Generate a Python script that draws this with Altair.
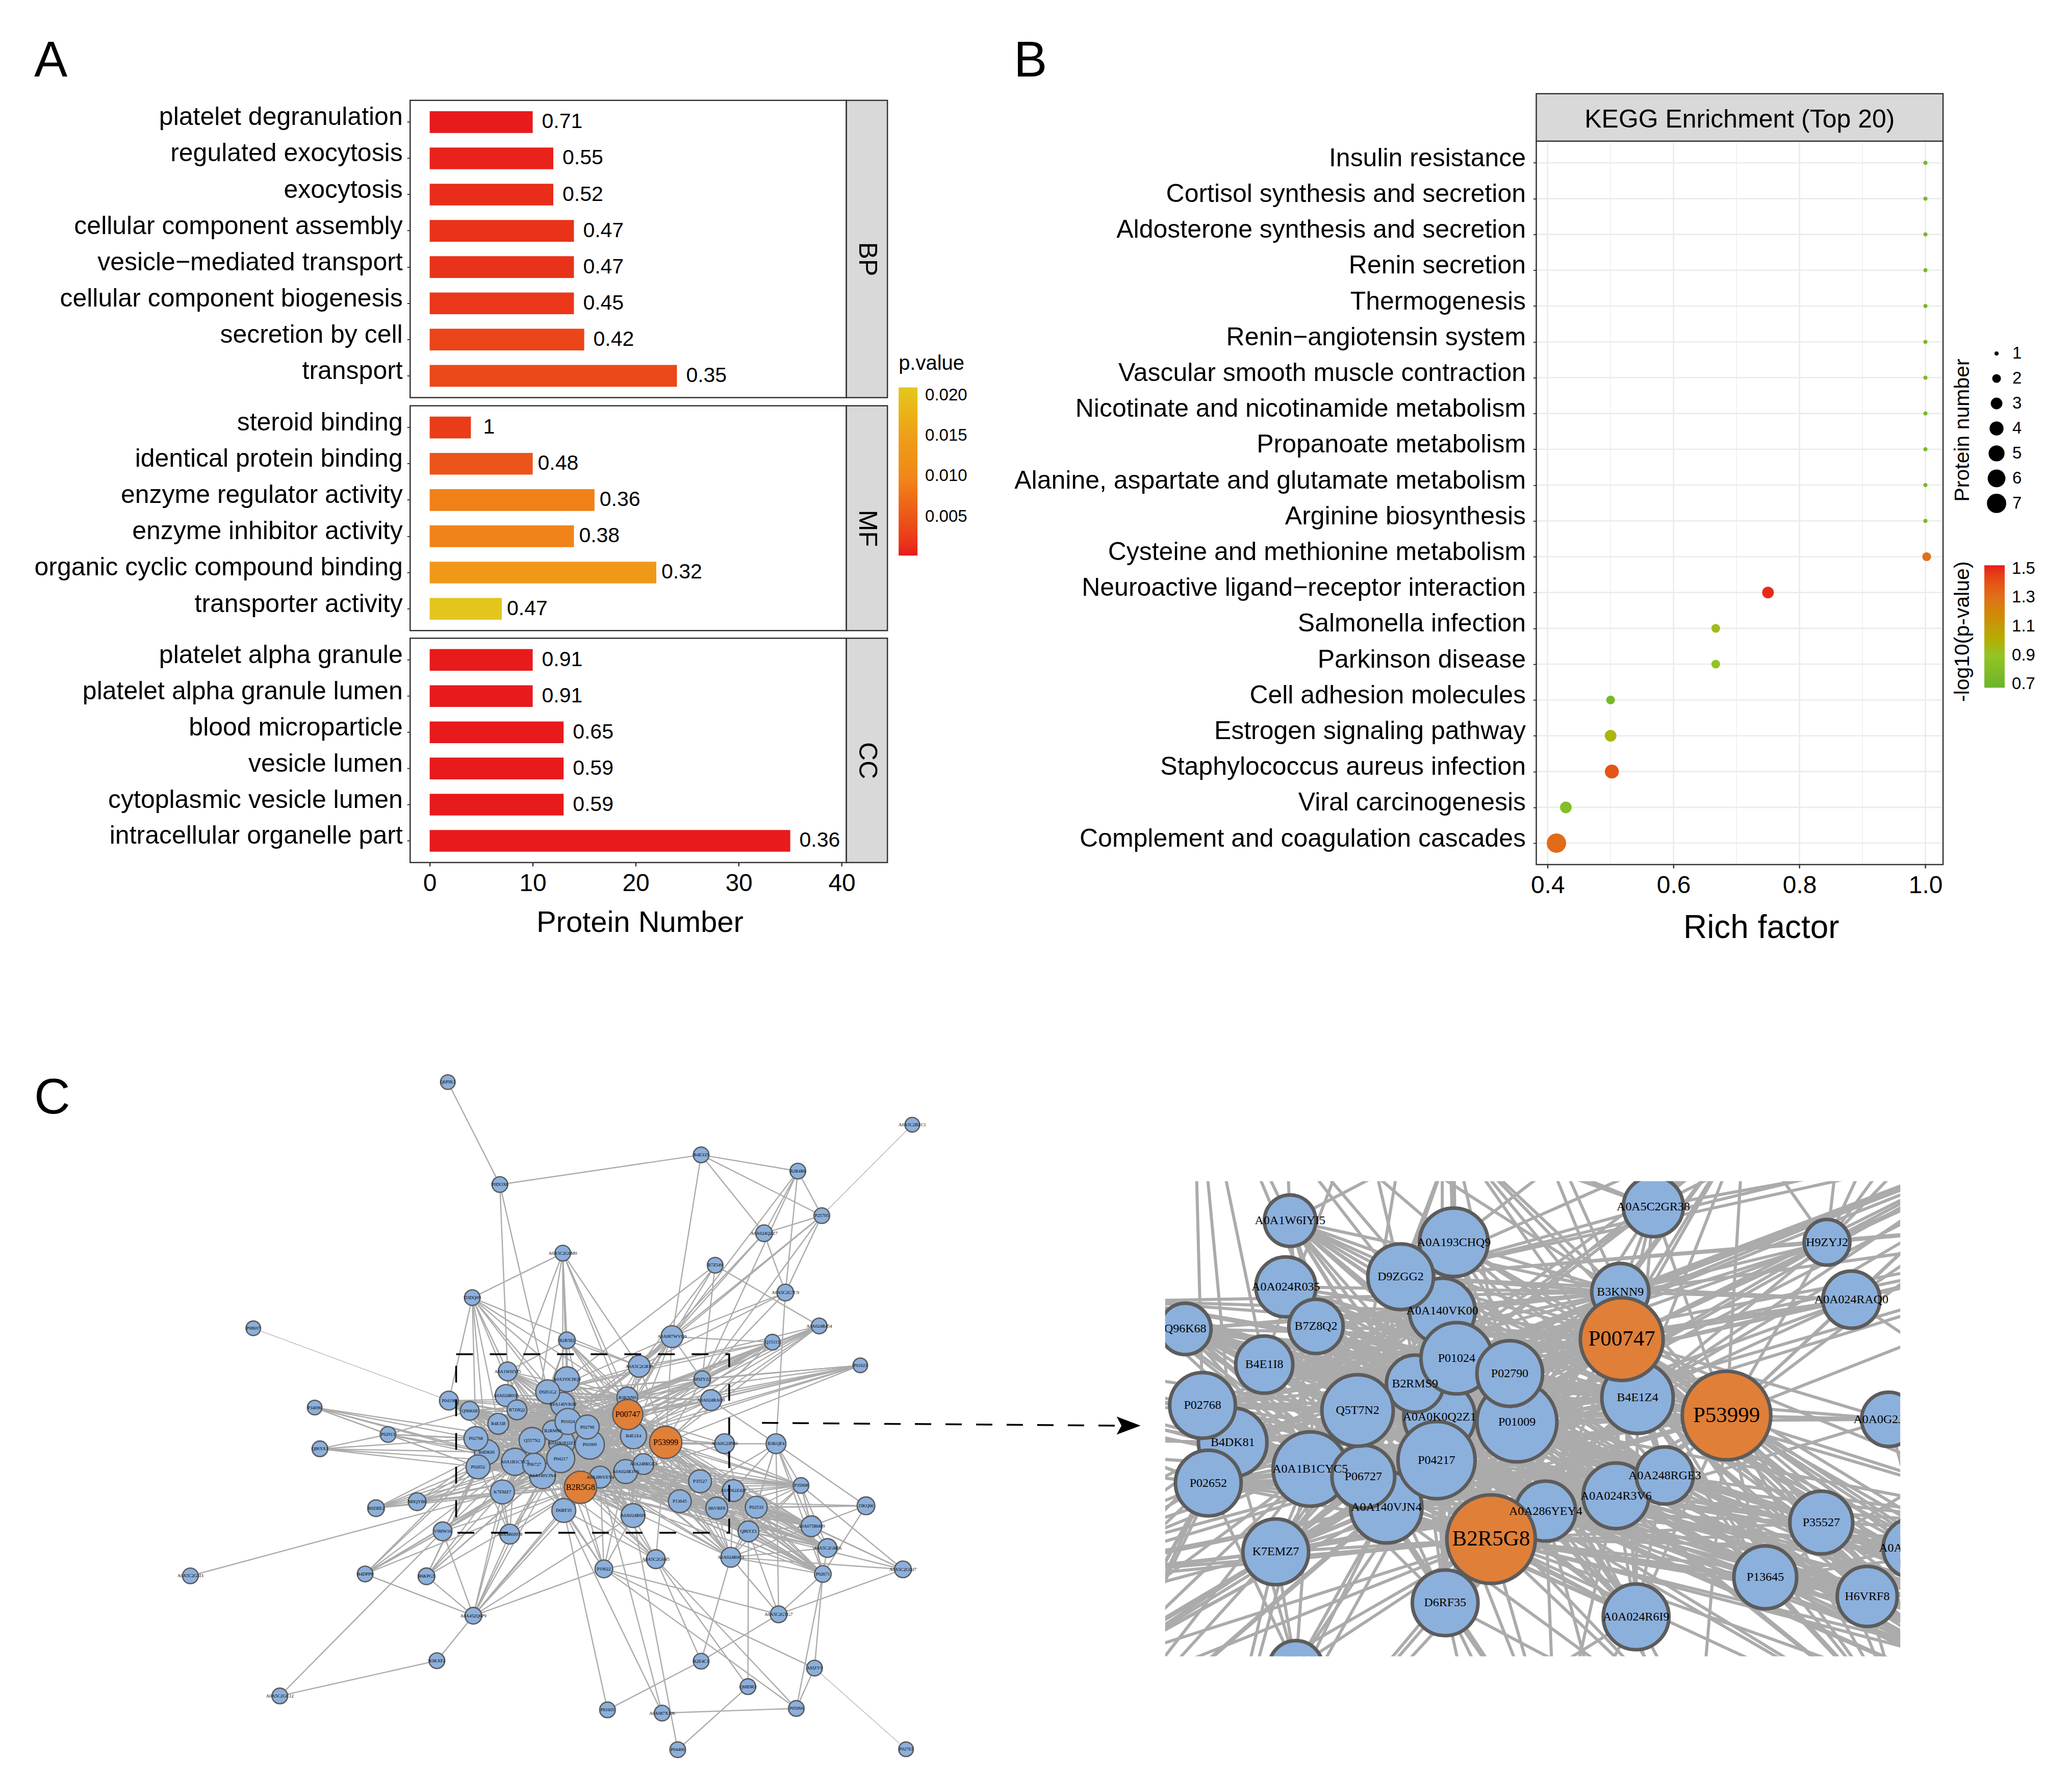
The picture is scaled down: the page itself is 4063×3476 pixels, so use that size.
import altair as alt
import pandas as pd

SANS = "Liberation Sans"
SERIF = "Liberation Serif"

# ---------- panel A ----------
bp_terms = ["platelet degranulation", "regulated exocytosis", "exocytosis", "cellular component assembly",
            "vesicle−mediated transport", "cellular component biogenesis", "secretion by cell", "transport"]
bp_num = [10, 12, 12, 14, 14, 14, 15, 24]
bp_rich = ["0.71", "0.55", "0.52", "0.47", "0.47", "0.45", "0.42", "0.35"]
bp_p = [0.0002, 0.0006, 0.0012, 0.0016, 0.0016, 0.002, 0.0032, 0.0034]

mf_terms = ["steroid binding", "identical protein binding", "enzyme regulator activity",
            "enzyme inhibitor activity", "organic cyclic compound binding", "transporter activity"]
mf_num = [4, 10, 16, 14, 22, 7]
mf_rich = ["1", "0.48", "0.36", "0.38", "0.32", "0.47"]
mf_p = [0.0024, 0.0048, 0.0092, 0.0096, 0.0135, 0.0205]

cc_terms = ["platelet alpha granule", "platelet alpha granule lumen", "blood microparticle", "vesicle lumen",
            "cytoplasmic vesicle lumen", "intracellular organelle part"]
cc_num = [10, 10, 13, 13, 13, 35]
cc_rich = ["0.91", "0.91", "0.65", "0.59", "0.59", "0.36"]
cc_p = [0.0002, 0.0002, 0.0002, 0.0002, 0.0002, 0.0002]

p_ticks = [0.005, 0.01, 0.015, 0.02]
p_stops = [0.00015, 0.005, 0.01, 0.015, 0.021]
p_colors = ["#E8191B", "#EC561A", "#F0881A", "#EE9F1A", "#E3C81F"]

# ---------- panel B ----------
kegg_terms = ["Insulin resistance", "Cortisol synthesis and secretion", "Aldosterone synthesis and secretion",
              "Renin secretion", "Thermogenesis", "Renin−angiotensin system",
              "Vascular smooth muscle contraction", "Nicotinate and nicotinamide metabolism",
              "Propanoate metabolism", "Alanine, aspartate and glutamate metabolism", "Arginine biosynthesis",
              "Cysteine and methionine metabolism", "Neuroactive ligand−receptor interaction",
              "Salmonella infection", "Parkinson disease", "Cell adhesion molecules",
              "Estrogen signaling pathway", "Staphylococcus aureus infection", "Viral carcinogenesis",
              "Complement and coagulation cascades"]
kegg_rich = [1, 1, 1, 1, 1, 1, 1, 1, 1, 1, 1, 1.002, 0.75, 0.667, 0.667, 0.5, 0.5, 0.502, 0.429, 0.414]
kegg_n = [1, 1, 1, 1, 1, 1, 1, 1, 1, 1, 1, 2, 3, 2, 2, 2, 3, 4, 3, 7]
kegg_log = [0.75, 0.75, 0.75, 0.75, 0.75, 0.75, 0.75, 0.75, 0.75, 0.75, 0.75, 1.3, 1.5, 0.93, 0.88, 0.74,
            0.97, 1.4, 0.8, 1.32]
log_stops = [0.675, 0.9, 1.1, 1.3, 1.523]
log_colors = ["#6BB42B", "#96C424", "#C49B0A", "#E0701A", "#E8191B"]
log_ticks = [0.7, 0.9, 1.1, 1.3, 1.5]
size_ticks = [1, 2, 3, 4, 5, 6, 7]
rich_major = [0.4, 0.6, 0.8, 1.0]
rich_minor = [0.5, 0.7, 0.9]

# ---------- panel C ----------
node_name = ["Q6PIK1", "A0A5C2BZC1", "P0DOX6", "B4E335", "B2R4B6", "P25705", "A0A024QZZ7", "A0A5C2G6M0", "B7Z549",
             "A0A5C2G7C9", "D3DQ09", "P08697", "A0A024R454", "A0A087WVQ9", "B2R582", "Q15113", "P01023",
             "A0A5C2GR38", "A0A1W6IYI5", "H9ZYJ2", "A0A024RAQ0", "P04196", "P34096", "Q96K68", "B4E1I8", "P62913",
             "B3KQF4", "A0A0G2JPR0", "Q86YA3", "P35527", "P35908", "A0A0S2Z428", "K7EMZ7", "P13645", "M0QYB6",
             "J3KQ66", "B0ZBE2", "H6VRF8", "P02533", "D6RF35", "A0A024R6I9", "A0A075B6H9", "Q86YZ3", "V9HW16",
             "A0A3B0J078", "A0A5C2GHE6", "A0A5C2G6H5", "A0A024R0C3", "P19022", "A0A5C2GQJ7", "P02671", "B4DPP8",
             "B6KPG5", "A0A5C2G5I3", "A0A452Q6P9", "A0A5C2GTG7", "B3KXF2", "B2E4C1", "A8JZV9", "Q68DR3",
             "A0A5C2GC12", "P81605", "P05060", "A0A087X106", "P04406", "P02763",
             "A0A0K0Q2Z1", "P01009", "B2RMS9", "A0A140VK00", "P01024", "P02790", "B3KNN9", "B4E1Z4", "P00747",
             "A0A193CHQ9", "D9ZGG2", "A0A024R035", "B7Z8Q2", "B4DK81", "P02768", "P02652", "A0A1B1CYC5",
             "A0A140VJN4", "P06727", "Q5T7N2", "P04217", "A0A024R3V6", "A0A248RGE3", "A0A286YEY4", "B2R5G8",
             "P53999"]
node_x = [566, 1459, 666, 1053, 1239, 1285, 1174, 787, 1080,
          1215, 613, 192, 1280, 997, 795, 1190, 1359,
          934, 681, 1055, 1072, 568, 310, 608, 663, 451,
          1197, 1098, 320, 1051, 1245, 1115, 671, 1012, 507,
          1370, 428, 1083, 1159, 789, 922, 1265, 1144, 556,
          685, 1296, 966, 1110, 866, 1441, 1287, 407,
          525, 71, 615, 1202, 545, 1053, 1271, 1143,
          243, 873, 1236, 978, 1008, 1447,
          785, 839, 768, 787, 797, 834, 911, 923, 912,
          795, 758, 678, 699, 641, 620, 624, 695,
          748, 732, 728, 783, 908, 942, 859, 821,
          985]
node_y = [81, 173, 302, 238, 273, 369, 407, 450, 476,
          535, 546, 612, 607, 630, 638, 642, 692,
          694, 705, 722, 767, 768, 783, 790, 818, 841,
          861, 861, 872, 942, 951, 962, 965, 985, 986,
          995, 1000, 1000, 998, 1005, 1016, 1039, 1050, 1050,
          1056, 1086, 1110, 1106, 1131, 1132, 1142, 1142,
          1147, 1146, 1232, 1229, 1329, 1330, 1345, 1385,
          1405, 1435, 1432, 1442, 1521, 1520,
          859, 863, 833, 776, 813, 825, 761, 844, 798,
          722, 749, 757, 788, 879, 850, 911, 900,
          930, 906, 854, 893, 921, 905, 933, 955,
          858]
node_r = [14, 14, 15, 15, 15, 15, 16, 15, 15,
          16, 15, 14, 15, 21, 16, 15, 14,
          21, 18, 16, 20, 18, 14, 18, 20, 15,
          19, 19, 15, 22, 15, 21, 23, 22, 17,
          17, 16, 21, 21, 23, 23, 20, 20, 18,
          19, 18, 18, 19, 17, 16, 16, 15,
          16, 15, 16, 16, 15, 15, 15, 15,
          15, 15, 15, 15, 15, 14,
          25, 28, 20, 23, 25, 23, 20, 25, 29,
          24, 23, 21, 19, 24, 23, 23, 26,
          25, 22, 25, 27, 23, 20, 21, 31,
          31]
hub_nodes = ["P00747", "B2R5G8", "P53999"]

inner_group = ["P01024", "P02790", "B2RMS9", "Q5T7N2", "A0A0K0Q2Z1", "P01009", "P04217", "P06727", "A0A140VJN4",
               "A0A1B1CYC5", "A0A140VK00", "B4E1Z4", "P00747", "P53999", "B2R5G8", "A0A286YEY4", "A0A024R3V6",
               "A0A248RGE3", "B3KNN9"]
west_group = ["P04196", "Q96K68", "B4E1I8", "B7Z8Q2", "A0A024R035", "A0A1W6IYI5", "D9ZGG2", "A0A193CHQ9", "P02768",
              "B4DK81", "P02652", "K7EMZ7", "D6RF35", "A0A024R6I9"]
east_group = ["P35527", "P13645", "H6VRF8", "A0A0S2Z428", "P02533", "Q86YZ3", "A0A075B6H9", "P35908", "A0A5C2GHE6",
              "A0A024R0C3", "P02671"]
east_targets = ["P53999", "B2R5G8", "P00747", "P01009", "B4E1Z4", "A0A024R3V6", "A0A248RGE3", "A0A286YEY4", "P04217"]
north_group = ["A0A5C2GR38", "H9ZYJ2", "A0A024RAQ0", "A0A087WVQ9", "B2R582", "Q15113", "A0A024R454", "P01023"]
north_targets = ["P53999", "P00747", "B4E1Z4", "B3KNN9", "P01024", "P01009", "D9ZGG2", "Q5T7N2"]
southwest_group = ["V9HW16", "A0A3B0J078", "M0QYB6", "B0ZBE2", "B6KPG5", "B4DPP8"]
southwest_targets = ["K7EMZ7", "P02652", "A0A1B1CYC5", "A0A140VJN4", "P04217", "B2R5G8", "B4DK81"]
farwest_group = ["P34096", "P62913", "Q86YA3"]
farwest_targets = ["P02768", "B4DK81", "P02652", "A0A1B1CYC5"]
upper_group = ["D3DQ09", "A0A5C2G6M0"]
upper_targets = ["A0A193CHQ9", "A0A140VK00", "P01024", "B3KNN9", "Q5T7N2", "B4DK81"]
lower_group = ["P19022", "A0A5C2G6H5", "A0A452Q6P9"]
lower_targets = ["B2R5G8", "A0A286YEY4", "A0A140VJN4", "D6RF35", "A0A024R6I9", "P04217"]

edge_list = [
    ("P0DOX6", "B4E335"), ("P0DOX6", "A0A1W6IYI5"), ("P0DOX6", "D9ZGG2"), ("Q6PIK1", "P0DOX6"),
    ("B4E335", "B2R4B6"), ("B4E335", "P25705"), ("B4E335", "A0A024QZZ7"), ("B4E335", "A0A087WVQ9"),
    ("B2R4B6", "P25705"), ("B2R4B6", "A0A024QZZ7"), ("B2R4B6", "A0A5C2G7C9"), ("B2R4B6", "A0A087WVQ9"),
    ("B2R4B6", "H9ZYJ2"), ("P25705", "A0A024QZZ7"), ("P25705", "A0A5C2G7C9"), ("P25705", "A0A087WVQ9"),
    ("P25705", "A0A5C2GR38"), ("P25705", "H9ZYJ2"), ("A0A024QZZ7", "A0A5C2G7C9"), ("A0A024QZZ7", "A0A087WVQ9"),
    ("A0A024QZZ7", "A0A5C2GR38"), ("A0A5C2G6M0", "D3DQ09"), ("A0A5C2G6M0", "B2R582"), ("A0A5C2G6M0", "A0A5C2GR38"),
    ("A0A5C2G6M0", "P00747"), ("A0A5C2G6M0", "A0A193CHQ9"), ("B7Z549", "A0A5C2GR38"), ("B7Z549", "H9ZYJ2"),
    ("B7Z549", "A0A024R454"), ("B7Z549", "A0A087WVQ9"), ("B7Z549", "A0A193CHQ9"), ("A0A5C2G7C9", "A0A087WVQ9"),
    ("A0A5C2G7C9", "H9ZYJ2"), ("A0A5C2G7C9", "B3KQF4"), ("A0A5C2G7C9", "A0A5C2GR38"), ("D3DQ09", "A0A5C2GR38"),
    ("D3DQ09", "A0A1W6IYI5"), ("D3DQ09", "P02768"), ("D3DQ09", "B4E1I8"), ("D3DQ09", "P04196"),
    ("A0A024R454", "H9ZYJ2"), ("A0A024R454", "A0A024RAQ0"), ("A0A087WVQ9", "Q15113"), ("A0A087WVQ9", "H9ZYJ2"),
    ("A0A087WVQ9", "A0A5C2GR38"), ("A0A087WVQ9", "B2R5G8"), ("B2R582", "A0A193CHQ9"), ("B2R582", "A0A5C2GR38"),
    ("B2R582", "A0A1W6IYI5"), ("Q15113", "A0A024RAQ0"), ("Q15113", "H9ZYJ2"), ("Q15113", "A0A5C2GR38"),
    ("P01023", "A0A024RAQ0"), ("P01023", "H9ZYJ2"), ("P34096", "Q5T7N2"), ("P62913", "Q96K68"),
    ("P62913", "Q5T7N2"), ("P34096", "P62913"), ("Q86YA3", "P62913"), ("A0A5C2G5I3", "K7EMZ7"),
    ("A0A5C2GC12", "V9HW16"), ("A0A5C2GC12", "B3KXF2"), ("B3KXF2", "A0A452Q6P9"), ("A0A452Q6P9", "B4DPP8"),
    ("A0A452Q6P9", "B6KPG5"), ("A0A452Q6P9", "P19022"), ("A0A452Q6P9", "V9HW16"), ("A0A452Q6P9", "A0A3B0J078"),
    ("A0A452Q6P9", "K7EMZ7"), ("A0A452Q6P9", "A0A1B1CYC5"), ("B4DPP8", "V9HW16"),
    ("P19022", "A0A5C2G6H5"), ("P19022", "A8JZV9"), ("P19022", "A0A5C2GTG7"), ("P19022", "P05060"),
    ("P19022", "A0A024R3V6"), ("P81605", "D6RF35"), ("P81605", "B2E4C1"), ("A0A087X106", "A0A286YEY4"),
    ("A0A087X106", "P05060"), ("A0A087X106", "D6RF35"), ("P04406", "Q68DR3"), ("P04406", "A0A024R6I9"),
    ("B2E4C1", "A0A5C2GTG7"), ("B2E4C1", "A0A5C2G6H5"), ("B2E4C1", "A0A024R0C3"), ("Q68DR3", "A0A5C2G6H5"),
    ("Q68DR3", "Q86YZ3"), ("A8JZV9", "P02671"), ("A8JZV9", "P05060"), ("P05060", "P02671"), ("P05060", "A0A5C2G6H5"),
    ("A0A5C2GTG7", "A0A5C2GQJ7"), ("A0A5C2GTG7", "P02671"), ("A0A5C2GTG7", "Q86YZ3"), ("A0A5C2GTG7", "A0A024R0C3"),
    ("A0A5C2GTG7", "B3KQF4"), ("A0A5C2GQJ7", "A0A075B6H9"), ("A0A5C2GQJ7", "A0A024R0C3"), ("A0A5C2GQJ7", "Q86YZ3"),
    ("A0A5C2GQJ7", "P35908"), ("A0A5C2GQJ7", "A0A0S2Z428"), ("J3KQ66", "B3KQF4"), ("J3KQ66", "P02533"),
    ("J3KQ66", "A0A075B6H9"), ("J3KQ66", "P13645"), ("J3KQ66", "H6VRF8"), ("J3KQ66", "P02671"),
    ("B3KQF4", "A0A0G2JPR0"), ("B3KQF4", "A0A024RAQ0"), ("B3KQF4", "P35908"), ("B3KQF4", "A0A075B6H9"),
    ("B3KQF4", "P02671"), ("B3KQF4", "Q86YZ3"), ("B3KQF4", "P02533"), ("B3KQF4", "H6VRF8"), ("B3KQF4", "P13645"),
    ("A0A0G2JPR0", "P53999"), ("A0A0G2JPR0", "P00747"), ("A0A0G2JPR0", "B2R5G8"), ("A0A0G2JPR0", "P01009"),
    ("A0A0G2JPR0", "B4E1Z4"), ("A0A0G2JPR0", "Q86YZ3"), ("A0A5C2G6H5", "P53999"),
]
thin_edges = [("P08697", "P04196"), ("P25705", "A0A5C2BZC1"), ("A8JZV9", "P02763")]
bundles = [(west_group, inner_group), (east_group, east_targets), (north_group, north_targets),
           (southwest_group, southwest_targets), (farwest_group, farwest_targets), (inner_group, inner_group),
           (east_group, east_group), (upper_group, upper_targets), (lower_group, lower_targets)]

box_x = [582, 1107]
box_y = [668, 1053]
zoom_x = [594, 1106]
zoom_y = [674, 1047]
arrow_x = [1170, 1856]
arrow_y = [816, 822]
head_x = [1875]
head_y = [822]

# ---------- tables ----------
def term_table(terms, nums, rich, ps):
    return pd.DataFrame({"term": terms, "n": nums, "rich": rich, "p": ps})

lookup = {n: (x, y) for n, x, y in zip(node_name, node_x, node_y)}
pairs = set()
for a_list, b_list in bundles:
    for a in a_list:
        for b in b_list:
            if a != b:
                pairs.add(tuple(sorted((a, b))))
for a, b in edge_list:
    pairs.add(tuple(sorted((a, b))))
thin = {tuple(sorted(e)) for e in thin_edges}
rows = []
for a, b in sorted(pairs):
    rows.append({"x": lookup[a][0], "y": lookup[a][1], "x2": lookup[b][0], "y2": lookup[b][1], "thin": 0})
for a, b in sorted(thin):
    rows.append({"x": lookup[a][0], "y": lookup[a][1], "x2": lookup[b][0], "y2": lookup[b][1], "thin": 1})
edges_all = pd.DataFrame(rows)
nodes = pd.DataFrame({"name": node_name, "x": node_x, "y": node_y, "r": node_r})
nodes["kind"] = ["hub" if n in hub_nodes else "other" for n in node_name]

one = pd.DataFrame({"t": [""]})

# ---------- geometry helpers (pixel positions on the page) ----------
TOP_W, TOP_H = 4047, 2052


def page_x(v):
    return v - 8


def page_y(v):
    return v - 8


def box(x0, x1, y0, y1, fill, stroke="#333333", sw=2.5):
    return alt.Chart(one).mark_rect(fill=fill, stroke=stroke, strokeWidth=sw).encode(
        x=alt.value(page_x(x0)), x2=alt.value(page_x(x1)), y=alt.value(page_y(y0)), y2=alt.value(page_y(y1)))


def note(text, x, y, size, angle=0, align="center", baseline="middle", color="black"):
    return alt.Chart(pd.DataFrame({"t": [text]})).mark_text(
        font=SANS, fontSize=size, angle=angle, align=align, baseline=baseline, color=color
    ).encode(x=alt.value(page_x(x)), y=alt.value(page_y(y)), text="t:N")


# ---------- panel A ----------
AX0, AX1 = 803.6, 1659.5
ADOM = [-1.9, 40.45]
p_scale = alt.Scale(domain=p_stops, range=p_colors)
x_a = alt.Scale(domain=ADOM, range=[page_x(AX0), page_x(AX1)])


def term_axis():
    return alt.Axis(orient="left", offset=-page_x(AX0), domain=False, grid=False, title=None, tickColor="#333333",
                    tickWidth=2, tickSize=6, labelFont=SANS, labelFontSize=50,
                    labelColor="black", labelPadding=9, labelLimit=1500, labelOffset=-9,
                    labelOverlap=False)


def go_panel(terms, nums, rich, ps, y0, y1, show_x=False, legend=None, dx=18, far_dx=None):
    df = term_table(terms, nums, rich, ps)
    y_s = alt.Scale(type="band", domain=terms, range=[page_y(y0), page_y(y1)], paddingInner=0.4, paddingOuter=0.3)
    x_axis = None
    if show_x:
        x_axis = alt.Axis(orient="bottom", offset=-(TOP_H - page_y(y1)), values=[0, 10, 20, 30, 40], grid=False,
                          domain=False, tickColor="#333333", tickWidth=2.5, tickSize=7, labelFont=SANS,
                          labelFontSize=48, labelColor="black", labelPadding=11, title="Protein Number",
                          titleFont=SANS, titleFontSize=58, titleFontWeight="normal", titleColor="black",
                          titlePadding=24, titleX=page_x(1254), labelOverlap=False)
    bars = alt.Chart(df).mark_bar().encode(
        x=alt.X("n:Q", scale=x_a, axis=x_axis),
        y=alt.Y("term:N", sort=None, scale=y_s, axis=term_axis()),
        color=alt.Color("p:Q", scale=p_scale, legend=legend),
    )
    layers = [bars]
    main = df if far_dx is None else df[df["rich"] != "1"]
    layers.append(alt.Chart(main).mark_text(font=SANS, fontSize=41, align="left", dx=dx, color="black").encode(
        x=alt.X("n:Q", scale=x_a, axis=None), y=alt.Y("term:N", sort=None, scale=y_s, axis=None), text="rich:N"))
    if far_dx is not None:
        layers.append(alt.Chart(df[df["rich"] == "1"]).mark_text(
            font=SANS, fontSize=41, align="left", dx=far_dx, color="black").encode(
            x=alt.X("n:Q", scale=x_a, axis=None), y=alt.Y("term:N", sort=None, scale=y_s, axis=None), text="rich:N"))
    return layers


p_legend = alt.Legend(orient="none", legendX=page_x(1762), legendY=page_y(691), title="p.value", titleFont=SANS,
                      titleFontSize=40, titleFontWeight="normal", titleColor="black", titlePadding=27,
                      gradientLength=330, gradientThickness=37, direction="vertical", values=p_ticks, format=".3f",
                      labelFont=SANS, labelFontSize=33, labelColor="black", labelOffset=15, labelOverlap=False,
                      gradientStrokeWidth=0)

a_layers = []
a_layers += go_panel(bp_terms, bp_num, bp_rich, bp_p, 195, 778, legend=p_legend)
a_layers += go_panel(mf_terms, mf_num, mf_rich, mf_p, 794, 1235, dx=10, far_dx=24)
a_layers += go_panel(cc_terms, cc_num, cc_rich, cc_p, 1250, 1690, show_x=True)
for y0, y1, lab in [(195, 778, "BP"), (794, 1235, "MF"), (1250, 1690, "CC")]:
    a_layers.append(box(AX0, AX1, y0, y1, "transparent"))
    a_layers.append(box(AX1, 1740, y0, y1, "#D9D9D9"))
    a_layers.append(note(lab, 1700, (y0 + y1) / 2 + 20, 50, angle=90))
a_layers.append(note("A", 66, 148, 98, align="left", baseline="alphabetic"))

# ---------- panel B ----------
BX0, BX1 = 3013, 3811
BDOM = [0.382, 1.028]
BY0, BY1 = 275, 1694
x_b = alt.Scale(domain=BDOM, range=[page_x(BX0), page_x(BX1)])
y_b = alt.Scale(type="point", domain=kegg_terms, range=[page_y(317.5), page_y(1652)], padding=0)
kegg = pd.DataFrame({"term": kegg_terms, "rich": kegg_rich, "n": kegg_n, "log": kegg_log})

b_layers = [box(BX0, BX1, BY0, BY1, "white", sw=0)]
for vals, w in [(rich_minor, 1.3), (rich_major, 2.6)]:
    b_layers.append(alt.Chart(pd.DataFrame({"v": vals})).mark_rule(color="#EBEBEB", strokeWidth=w).encode(
        x=alt.X("v:Q", scale=x_b, axis=None), y=alt.value(page_y(BY0)), y2=alt.value(page_y(BY1))))
b_layers.append(alt.Chart(pd.DataFrame({"term": kegg_terms})).mark_rule(color="#EBEBEB", strokeWidth=2.6).encode(
    y=alt.Y("term:N", sort=None, scale=y_b, axis=alt.Axis(
        orient="left", offset=-page_x(BX0), domain=False, grid=False, title=None, tickColor="#333333", tickWidth=2,
        tickSize=6, labelFont=SANS, labelFontSize=50, labelColor="black", labelPadding=15, labelLimit=1500,
        labelOffset=-9, labelOverlap=False)),
    x=alt.value(page_x(BX0)), x2=alt.value(page_x(BX1))))
b_layers.append(alt.Chart(kegg).mark_circle(opacity=1).encode(
    x=alt.X("rich:Q", scale=x_b, axis=alt.Axis(
        orient="bottom", offset=-(TOP_H - page_y(BY1)), values=rich_major, format=".1f", grid=False, domain=False,
        tickColor="#333333", tickWidth=2.5, tickSize=7, labelFont=SANS, labelFontSize=48, labelColor="black",
        labelPadding=11, title="Rich factor", titleFont=SANS, titleFontSize=64, titleFontWeight="normal",
        titleColor="black", titlePadding=27, titleX=page_x(3454), labelOverlap=False)),
    y=alt.Y("term:N", sort=None, scale=y_b, axis=None),
    size=alt.Size("n:Q", scale=alt.Scale(domain=[1, 7], range=[64, 1444]), legend=alt.Legend(
        orient="none", legendX=page_x(3897), legendY=page_y(667), title=None, values=size_ticks, format="d",
        symbolType="circle", symbolFillColor="black", symbolStrokeColor="black", symbolStrokeWidth=0, clipHeight=49,
        rowPadding=0, labelFont=SANS, labelFontSize=33, labelColor="black", labelOffset=12, columns=1)),
    color=alt.Color("log:Q", scale=alt.Scale(domain=log_stops, range=log_colors), legend=alt.Legend(
        orient="none", legendX=page_x(3892), legendY=page_y(1107), title=None, gradientLength=240,
        gradientThickness=40, direction="vertical", values=log_ticks, format=".1f", labelFont=SANS, labelFontSize=33,
        labelColor="black", labelOffset=14, labelOverlap=False, gradientStrokeWidth=0)),
))
b_layers.append(box(BX0, BX1, BY0, BY1, "transparent"))
b_layers.append(box(BX0, BX1, 182, BY0, "#D9D9D9"))
b_layers.append(note("KEGG Enrichment (Top 20)", (BX0 + BX1) / 2, 233, 50))
b_layers.append(note("Protein number", 3850, 842, 41, angle=270))
b_layers.append(note("-log10(p-value)", 3850, 1237, 41, angle=270))
b_layers.append(note("B", 1988, 148, 98, align="left", baseline="alphabetic"))

top = alt.layer(*(a_layers + b_layers)).properties(width=TOP_W, height=TOP_H).resolve_scale(
    x="independent", y="independent", color="independent", size="independent"
).resolve_axis(x="independent", y="independent").resolve_legend(color="independent", size="independent")

# ---------- panel C ----------
LEFT_W, LEFT_H = 2272, 1400
x_l = alt.Scale(domain=[-286.2, 1940.4], range=[0, LEFT_W])
y_l = alt.Scale(domain=[19.8, 1559.3], range=[0, LEFT_H])
RIGHT_W, RIGHT_H = 1442, 932
x_r = alt.Scale(domain=zoom_x, range=[0, RIGHT_W])
y_r = alt.Scale(domain=zoom_y, range=[0, RIGHT_H])
fill_scale = alt.Scale(domain=["hub", "other"], range=["#E07F38", "#8CB0DC"])


def network(xs, ys, edge_w, thin_w, node_sw, r40, small_font, big_font, clip, window=None):
    ed = edges_all.copy()
    ed["w"] = [thin_w if t else edge_w for t in ed["thin"]]
    shown = nodes.copy()
    lab = nodes.copy()
    if window is not None:
        (x0, x1), (y0, y1) = window
        shown = shown[(shown.x + shown.r > x0) & (shown.x - shown.r < x1)
                      & (shown.y + shown.r > y0) & (shown.y - shown.r < y1)]
        lab = lab[(lab.x + 28 > x0) & (lab.x - 28 < x1) & (lab.y > y0) & (lab.y < y1)]
    lab = lab.assign(fs=[big_font if k == "hub" else small_font for k in lab["kind"]])
    e = alt.Chart(ed).mark_rule(color="#ABABAB", clip=clip).encode(
        x=alt.X("x:Q", scale=xs, axis=None), x2="x2:Q", y=alt.Y("y:Q", scale=ys, axis=None), y2="y2:Q",
        strokeWidth=alt.StrokeWidth("w:Q", scale=None))
    n = alt.Chart(shown).mark_circle(opacity=1, stroke="#5C5C5C", strokeWidth=node_sw, clip=clip).encode(
        x=alt.X("x:Q", scale=xs, axis=None), y=alt.Y("y:Q", scale=ys, axis=None),
        size=alt.Size("r:Q", scale=alt.Scale(type="pow", exponent=2, domain=[0, 40], range=[0, r40]), legend=None),
        color=alt.Color("kind:N", scale=fill_scale, legend=None))
    t = alt.Chart(lab).mark_text(font=SERIF, color="black", clip=clip).encode(
        x=alt.X("x:Q", scale=xs, axis=None), y=alt.Y("y:Q", scale=ys, axis=None), text="name:N",
        size=alt.Size("fs:Q", scale=None))
    return [e, n, t]


left_layers = network(x_l, y_l, 2.4, 1.2, 2.6, 6659, 9, 16, False)
left_layers.append(alt.Chart(pd.DataFrame({"x": [box_x[0]], "x2": [box_x[1]], "y": [box_y[0]], "y2": [box_y[1]]}))
                   .mark_rect(fill="transparent", stroke="black", strokeWidth=3.5, strokeDash=[33, 33]).encode(
    x=alt.X("x:Q", scale=x_l, axis=None), x2="x2:Q", y=alt.Y("y:Q", scale=y_l, axis=None), y2="y2:Q"))
left_layers.append(alt.Chart(pd.DataFrame({"x": [arrow_x[0]], "x2": [arrow_x[1]], "y": [arrow_y[0]], "y2": [arrow_y[1]]}))
                   .mark_rule(color="black", strokeWidth=3.5, strokeDash=[32, 28]).encode(
    x=alt.X("x:Q", scale=x_l, axis=None), x2="x2:Q", y=alt.Y("y:Q", scale=y_l, axis=None), y2="y2:Q"))
left_layers.append(alt.Chart(pd.DataFrame({"x": head_x, "y": head_y})).mark_point(
    shape="M -1 -0.75 L 1 0 L -1 0.75 L -0.6 0 Z", filled=True, color="black", opacity=1, size=2209).encode(
    x=alt.X("x:Q", scale=x_l, axis=None), y=alt.Y("y:Q", scale=y_l, axis=None)))
left_layers.append(alt.Chart(pd.DataFrame({"t": ["C"]})).mark_text(
    font=SANS, fontSize=98, align="left", baseline="alphabetic", color="black").encode(
    x=alt.value(58), y=alt.value(117), text="t:N"))
left = alt.layer(*left_layers).properties(width=LEFT_W, height=LEFT_H)

right = alt.layer(*network(x_r, y_r, 6, 3, 7, 50176, 24, 43, True, window=(zoom_x, zoom_y))).properties(
    width=RIGHT_W, height=RIGHT_H)
spacer = alt.Chart(one).mark_point(opacity=0).encode(x=alt.value(0), y=alt.value(0)).properties(width=RIGHT_W, height=248)

right_col = alt.vconcat(spacer, right, spacing=0)
bottom = alt.hconcat(left, right_col, spacing=0).resolve_scale(color="independent", size="independent")
chart = alt.vconcat(top, bottom, spacing=0).resolve_scale(
    color="independent", size="independent"
).properties(padding=0).configure_view(stroke="transparent")

chart.save("out.html", embed_options={"renderer": "svg", "actions": False})
